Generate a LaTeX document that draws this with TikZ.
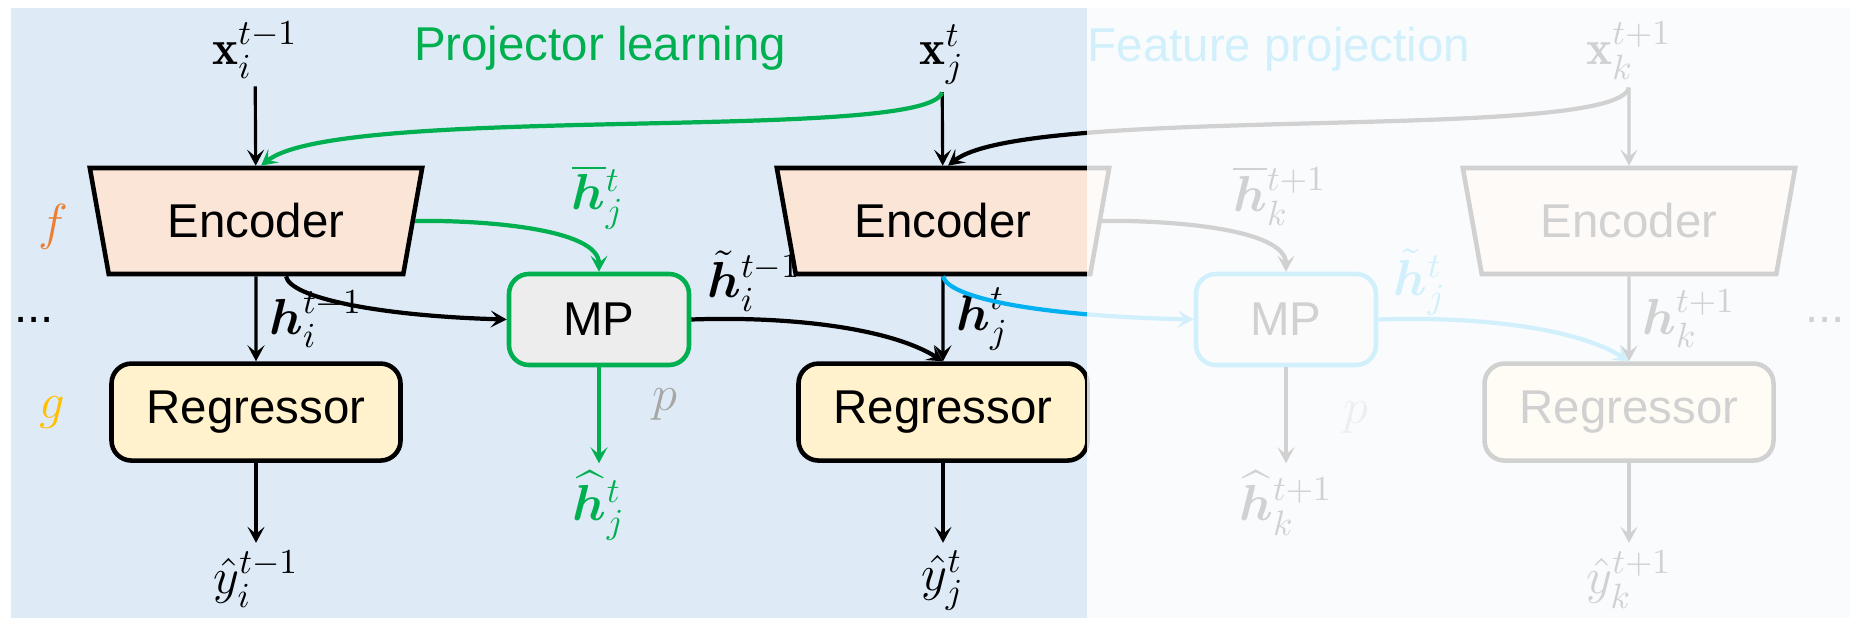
\documentclass[tikz,border=0pt]{standalone}
\usepackage{amsmath,amssymb}
\usepackage{fontspec}
\newfontfamily\arialsans{Liberation Sans}
\usepackage{xcolor}
\usepackage{tikz}
\usetikzlibrary{arrows.meta, positioning, shapes.geometric}

\definecolor{bgblue}{HTML}{DEEBF7}
\definecolor{encfill}{HTML}{FBE5D6}
\definecolor{regfill}{HTML}{FFF2CC}
\definecolor{mpfill}{HTML}{EDEDED}
\definecolor{pgreen}{HTML}{00B050}
\definecolor{pblue}{HTML}{00B0F0}
\definecolor{forange}{HTML}{ED7D31}
\definecolor{gyellow}{HTML}{FFC000}
\definecolor{pgray}{HTML}{A6A6A6}

\begin{document}
\begin{tikzpicture}[
  every node/.style={font=\fontsize{14}{17}\selectfont},
  sans/.style={font=\arialsans\fontsize{13.5}{16}\selectfont},
  enc/.style={trapezium, shape border rotate=180, trapezium angle=72,
              trapezium stretches=true, draw, line width=1.3pt, fill=encfill,
              minimum width=3.33cm, minimum height=1.06cm, inner sep=0pt, sans},
  reg/.style={rectangle, draw, rounded corners=2mm, line width=1.3pt,
              fill=regfill, minimum width=2.89cm, minimum height=0.97cm, sans},
  mp/.style={rectangle, draw, rounded corners=2mm, line width=1.3pt,
             fill=mpfill, minimum width=1.8cm, minimum height=0.91cm, sans},
  lbl/.style={inner sep=2pt},
  arrow/.style={-{Stealth[length=1.6mm, width=1.7mm, inset=0.7mm]}, line width=0.9pt},
  curve/.style={arrow, line width=1.2pt},
]
% background
\path[use as bounding box] (0,0) rectangle (18.5,6.18);
\fill[bgblue] (0.11,0) rectangle (18.5,6.10);

% titles
\node[anchor=base, sans, text=pgreen] (tpl) at (6.00,5.57) {Projector learning};
\node[anchor=base, sans, text=pblue]  (tfp) at (12.79,5.56) {Feature projection};

% inputs
\node[anchor=base, lbl] (xi) at (2.55,5.53)  {$\mathbf{x}_i^{t-1}$};
\node[anchor=base, lbl] (xj) at (9.42,5.53)  {$\mathbf{x}_j^{t}$};
\node[anchor=base, lbl] (xk) at (16.29,5.53) {$\mathbf{x}_k^{t+1}$};

% encoders, projectors, regressors
\node[enc] (enc1) at (2.56,3.97)  {Encoder};
\node[enc] (enc2) at (9.43,3.97)  {Encoder};
\node[enc] (enc3) at (16.29,3.97) {Encoder};
\node[mp, draw=pgreen] (mp1) at (5.99,2.985)  {MP};
\node[mp, draw=pblue]  (mp2) at (12.86,2.985) {MP};
\node[reg, below=0.85cm of enc1] (reg1) {Regressor};
\node[reg, below=0.85cm of enc2] (reg2) {Regressor};
\node[reg, below=0.85cm of enc3] (reg3) {Regressor};

% outputs
\node[lbl, below=0.8cm of reg1] (yi) {$\hat{y}_i^{t-1}$};
\node[lbl, below=0.8cm of reg2] (yj) {$\hat{y}_j^{t}$};
\node[lbl, below=0.8cm of reg3] (yk) {$\hat{y}_k^{t+1}$};
\node[lbl, below=0.96cm of mp1, text=pgreen] (hhj) {$\widehat{\boldsymbol{h}}{}_j^{t}$};
\node[lbl, below=0.96cm of mp2] (hhk) {$\widehat{\boldsymbol{h}}{}_k^{t+1}$};

% side labels
\node[text=forange] (f) at (0.53,3.91) {$f$};
\node[text=gyellow] (g) at (0.52,2.05) {$g$};
\node[anchor=base, sans] (dl) at (0.34,2.95)  {...};
\node[anchor=base, sans] (dr) at (18.25,2.95) {...};
\node[text=pgray] (p1) at (6.65,2.13)  {$p$};
\node[text=pgray] (p2) at (13.56,2.00) {$p$};
\node[text=pgreen] (hbj) at (5.98,4.21)  {$\overline{\boldsymbol{h}}{}_j^{t}$};
\node              (hti) at (7.54,3.37)  {$\tilde{\boldsymbol{h}}{}_i^{t-1}$};
\node              (hbk) at (12.80,4.22) {$\overline{\boldsymbol{h}}{}_k^{t+1}$};
\node[text=pblue]  (htj) at (14.20,3.36) {$\tilde{\boldsymbol{h}}{}_j^{t}$};

% straight arrows
\draw[arrow] (xi) -- (enc1);
\draw[arrow] (xj) -- (enc2);
\draw[arrow] (xk) -- (enc3);
\draw[arrow] (enc1) -- node[right] (hi) {$\boldsymbol{h}_i^{t-1}$} (reg1);
\draw[arrow] (enc2) -- node[right] (hj) {$\boldsymbol{h}_j^{t}$} (reg2);
\draw[arrow] (enc3) -- node[right] (hk) {$\boldsymbol{h}_k^{t+1}$} (reg3);
\draw[arrow] (reg1) -- (yi);
\draw[arrow] (reg2) -- (yj);
\draw[arrow] (reg3) -- (yk);
\draw[arrow, pgreen] (mp1) -- (hhj);
\draw[arrow] (mp2) -- (hhk);

% curved connectors
\draw[curve, pgreen] (xj.south) .. controls (9.3,4.75) and (3.4,5.15) .. ([xshift=0.5mm]enc1.north);
\draw[curve] (xk.south) .. controls (16.16,4.75) and (10.27,5.15) .. ([xshift=0.5mm]enc2.north);
\draw[curve, pgreen] (enc1.east) .. controls (4.8,3.98) and (5.99,3.9) .. (mp1.north);
\draw[curve] ([xshift=3mm]enc1.south) .. controls (2.9,3.2) and (3.8,3.02) .. (mp1.west);
\draw[curve] (mp1.east) .. controls (7.9,3.02) and (8.9,2.9) .. (reg2.north);
\draw[curve, pblue] (enc2.south) .. controls (9.48,3.2) and (10.38,3.02) .. (mp2.west);
\draw[curve] (enc2.east) .. controls (11.66,3.98) and (12.86,3.9) .. (mp2.north);
\draw[curve, pblue] (mp2.east) .. controls (14.77,3.02) and (15.77,2.9) .. (reg3.north);

% fade the feature projection half
\fill[white, fill opacity=0.82] (10.87,0) rectangle (18.5,6.10);
\end{tikzpicture}
\end{document}
